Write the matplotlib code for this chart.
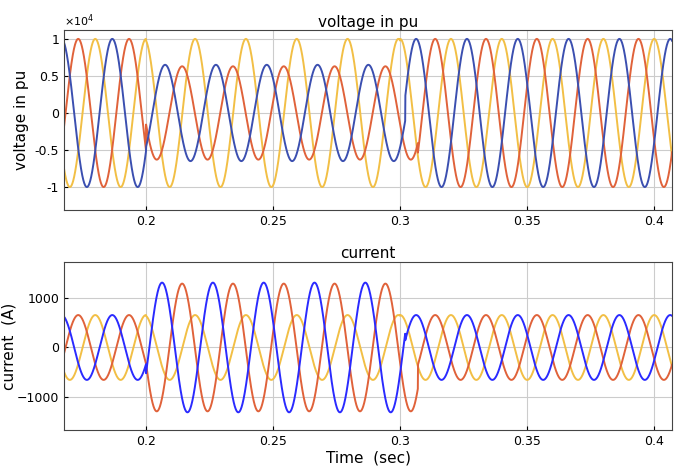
import numpy as np
import matplotlib.pyplot as plt

freq = 50.0
sag_start = 0.2
# sag end per phase (blue, red, yellow)
sag_end_blue = 0.302
sag_end_red = 0.307
sag_end_yel = 0.300
# voltage phase peak times (s) per segment [before, during, after]
peak_blue = [0.1867, 0.2075, 0.3063]
peak_red = [0.1733, 0.2142, 0.3138]
peak_yel = [0.1800, 0.2193, 0.3200]
# current phase peak times (s)
ipeak_blue = [0.1867, 0.2063, 0.3063]
ipeak_red = [0.1733, 0.2142, 0.3138]
ipeak_yel = [0.1800, 0.2193, 0.3200]
# voltage amplitudes per segment
v_amp_blue = [1.0e4, 0.65e4, 1.0e4]
v_amp_red = [1.0e4, 0.63e4, 1.0e4]
v_amp_yel = [1.0e4, 1.0e4, 1.0e4]
# current amplitudes per segment
i_amp_blue = [660, 1320, 660]
i_amp_red = [660, 1300, 660]
i_amp_yel = [660, 660, 660]

t = np.linspace(0.165, 0.41, 6000)

def wave(amps, peaks, end):
    seg = np.digitize(t, [sag_start, end])
    a = np.array(amps)[seg]
    p = np.array(peaks)[seg]
    return a * np.cos(2 * np.pi * freq * (t - p))

fig = plt.figure(figsize=(6.85, 4.72), dpi=100)
W, H = 685, 472
ax1 = fig.add_axes([64/W, 1-210/H, 608/W, 180/H])
ax2 = fig.add_axes([64/W, 1-430/H, 608/W, 168/H])

cb1, cr, cy = '#3b4fb0', '#e0623a', '#f2bf45'
cb2 = '#2a2aff'
sets = [(ax1, (v_amp_blue, v_amp_red, v_amp_yel), (peak_blue, peak_red, peak_yel), cb1),
        (ax2, (i_amp_blue, i_amp_red, i_amp_yel), (ipeak_blue, ipeak_red, ipeak_yel), cb2)]
for ax, amps, pk, cb in sets:
    ax.plot(t, wave(amps[2], pk[2], sag_end_yel), color=cy, lw=1.4)
    ax.plot(t, wave(amps[1], pk[1], sag_end_red), color=cr, lw=1.4)
    ax.plot(t, wave(amps[0], pk[0], sag_end_blue), color=cb, lw=1.4)
    ax.set_xlim(0.1677, 0.407)
    ax.set_xticks([0.2, 0.25, 0.3, 0.35, 0.4])
    ax.set_xticklabels(['0.2', '0.25', '0.3', '0.35', '0.4'])
    ax.grid(True, color='#cccccc', lw=0.8)
    ax.tick_params(labelsize=9, length=3, direction='in')
    for s in ax.spines.values():
        s.set_color('#444444')

ax1.set_ylim(-1.31e4, 1.12e4)
ax1.set_yticks([-1e4, -0.5e4, 0, 0.5e4, 1e4])
ax1.set_yticklabels(['-1', '-0.5', '0', '0.5', '1'])
ax1.text(0.0, 1.005, r'$\times10^4$', transform=ax1.transAxes, fontsize=8, va='bottom')
ax1.set_title('voltage in pu', fontsize=11, pad=2)
ax1.set_ylabel('voltage in pu', fontsize=11)

ax2.set_ylim(-1680, 1740)
ax2.set_yticks([-1000, 0, 1000])
ax2.set_title('current', fontsize=11, pad=3)
ax2.set_ylabel('current  (A)', fontsize=11, labelpad=0)
ax2.set_xlabel('Time  (sec)', fontsize=11, labelpad=2)

fig.savefig('out.png', dpi=100)
